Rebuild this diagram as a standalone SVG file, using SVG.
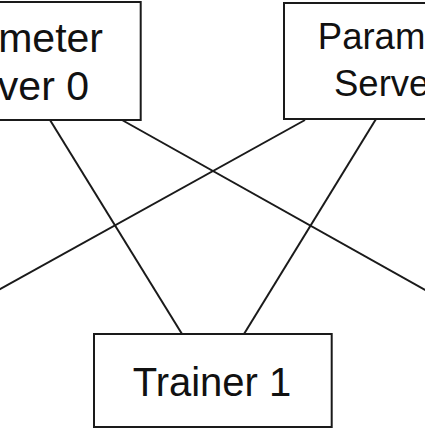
<svg xmlns="http://www.w3.org/2000/svg" width="425" height="429" viewBox="0 0 425 429">
<style>
.box{fill:#fff;stroke:#1a1a1a;stroke-width:2}
.lbl{font-family:"Liberation Sans",Arial,sans-serif;fill:#111;text-anchor:middle}
.lblr{font-family:"Liberation Sans",Arial,sans-serif;fill:#111;text-anchor:end}
.edge{stroke:#1a1a1a;stroke-width:2;fill:none}
</style>
<rect width="425" height="429" fill="#fff"/>
<g id="connectors">
<line class="edge" x1="50" y1="120" x2="182" y2="334"/>
<line class="edge" x1="122" y1="120" x2="430" y2="292.6"/>
<line class="edge" x1="305" y1="120" x2="-5" y2="291.8"/>
<line class="edge" x1="376" y1="119" x2="244" y2="334"/>
</g>
<g id="ps0">
<rect class="box" x="-107" y="2" width="247.7" height="118"/>
<text class="lblr" x="103" y="51.5" font-size="41">Parameter</text>
<text class="lblr" x="89" y="99.5" font-size="41">Server 0</text>
</g>
<g id="ps1">
<rect class="box" x="284" y="3" width="238" height="116"/>
<text class="lbl" x="403" y="49.3" font-size="36.5">Parameter</text>
<text class="lbl" x="403" y="96" font-size="36.5">Server 1</text>
</g>
<g id="trainer1">
<rect class="box" x="94" y="334" width="237.7" height="93"/>
<text class="lbl" x="212" y="396" font-size="40">Trainer 1</text>
</g>
</svg>
